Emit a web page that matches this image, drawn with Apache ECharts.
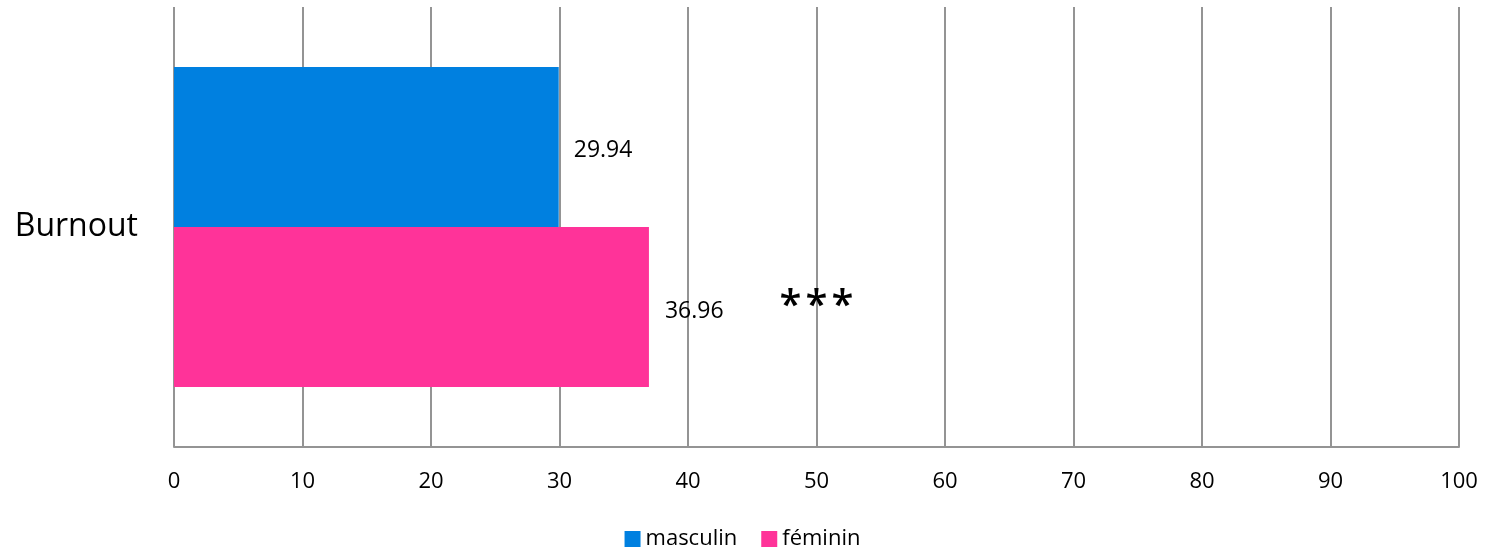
<!DOCTYPE html>
<html>
<head>
<meta charset="utf-8">
<script src="https://cdn.jsdelivr.net/npm/echarts@6/dist/echarts.min.js"></script>
<style>
  html, body { margin: 0; padding: 0; background: #fff; }
  #chart_burnout { width: 1485px; height: 551px; }
</style>
</head>
<body>
<div id="chart_burnout"></div>
<script>
  // data
  let categories = ['Burnout']
  let seriesNames = ['masculin', 'féminin']
  let masculin = [29.94]
  let feminin = [36.96]
  let significance = ['***']

  let font = '"Open Sans", "Noto Sans", sans-serif'
  let chart = echarts.init(document.getElementById('chart_burnout'))

  let options = {
    animation: false,
    textStyle: { fontFamily: font },
    legend: {
      data: seriesNames,
      bottom: -4,
      icon: 'rect',
      itemWidth: 16,
      itemHeight: 16,
      itemGap: 24,
      textStyle: { fontSize: 22, color: '#000', fontFamily: font }
    },
    grid: {
      left: 174,
      right: 26,
      top: 7,
      bottom: 104
    },
    xAxis: {
      type: 'value',
      min: 0,
      max: 100,
      interval: 10,
      axisLine: { show: true, lineStyle: { color: '#949494', width: 2 } },
      axisTick: { show: false },
      splitLine: { show: true, lineStyle: { color: '#949494', width: 2 } },
      axisLabel: { fontSize: 22, color: '#000', margin: 24, fontFamily: font }
    },
    yAxis: {
      type: 'category',
      data: categories,
      inverse: true,
      axisLine: { show: false },
      axisTick: { show: false },
      axisLabel: { fontSize: 32, color: '#000', margin: 36, fontFamily: font }
    },
    series: [
      {
        name: seriesNames[0],
        type: 'bar',
        data: masculin,
        barWidth: 160,
        barGap: '0%',
        itemStyle: { color: '#0080e0' },
        label: {
          show: true,
          position: 'right',
          distance: 15,
          color: '#000',
          fontFamily: font,
          formatter: '{v|{c}}',
          rich: {
            v: { fontSize: 23, color: '#000', fontFamily: font, padding: [6, 0, 0, 0] }
          }
        }
      },
      {
        name: seriesNames[1],
        type: 'bar',
        data: feminin,
        barWidth: 160,
        barGap: '0%',
        itemStyle: { color: '#ff3399' },
        label: {
          show: true,
          position: 'right',
          distance: 16,
          color: '#000',
          fontFamily: font,
          formatter: function (p) {
            return '{v|' + p.value + '}{s|' + significance[p.dataIndex].split('').join('\u200a') + '}'
          },
          rich: {
            v: { fontSize: 23, color: '#000', fontFamily: font, padding: [8, 0, 0, 0] },
            s: { fontSize: 40, fontWeight: 600, color: '#000', fontFamily: font, padding: [0, 0, 0, 56] }
          }
        }
      }
    ]
  }
  chart.setOption(options)
</script>
</body>
</html>
